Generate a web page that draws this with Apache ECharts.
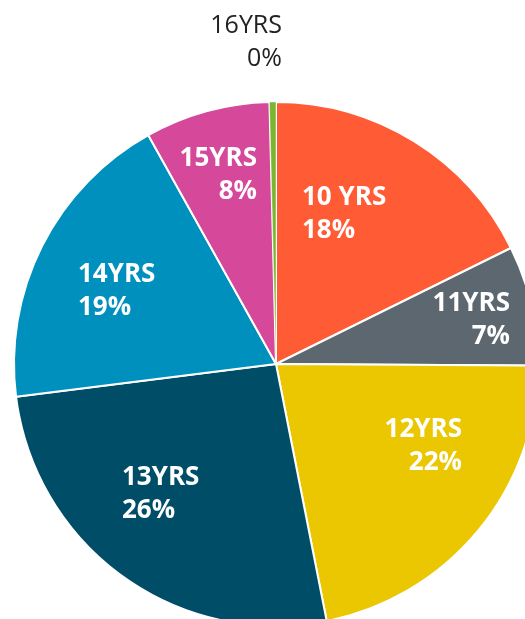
<!DOCTYPE html>
<html>
<head>
<meta charset="utf-8">
<script src="https://cdn.jsdelivr.net/npm/echarts@6/dist/echarts.min.js"></script>
<style>
  html, body { margin: 0; padding: 0; background: #fff; }
  #chart { width: 525px; height: 619px; }
</style>
</head>
<body>
<div id="chart"></div>
<script>
const categories = ['10 YRS', '11YRS', '12YRS', '13YRS', '14YRS', '15YRS', '16YRS'];
const shares = [17.7, 7.4, 21.8, 26.1, 18.9, 7.7, 0.4];
const pctLabels = ['18%', '7%', '22%', '26%', '19%', '8%', '0%'];
const colors = ['#FF5B35', '#5C6770', '#EAC700', '#004D68', '#0090BD', '#D6489A', '#7AB530'];

// label anchor: x, y, align
const labelAnchors = [
    [302, 214, 'left'],
    [510, 320, 'right'],
    [462, 446, 'right'],
    [122, 494, 'left'],
    [78, 291, 'left'],
    [257, 175, 'right'],
    [282, 42, 'right']
];

const chartDom = document.getElementById('chart');
const myChart = echarts.init(chartDom);

const option = {
    animation: false,
    series: [
        {
            type: 'pie',
            center: [276, 364],
            radius: 262,
            startAngle: 90,
            clockwise: true,
            avoidLabelOverlap: false,
            itemStyle: {
                borderColor: '#fff',
                borderWidth: 2
            },
            label: {
                show: true,
                position: 'inside',
                color: '#fff',
                fontFamily: 'Open Sans',
                fontWeight: 'bold',
                fontSize: 26,
                lineHeight: 33,
                formatter: p => p.name + '\n' + pctLabels[p.dataIndex]
            },
            labelLine: {show: false},
            labelLayout: function (params) {
                const a = labelAnchors[params.dataIndex];
                return {x: a[0], y: a[1], align: a[2], verticalAlign: 'middle'};
            },
            data: categories.map((c, i) => {
                const d = {name: c, value: shares[i], itemStyle: {color: colors[i]}};
                if (i === 6) {
                    d.label = {color: '#222', fontWeight: 'normal', fontSize: 25};
                    d.itemStyle.borderWidth = 0.5;
                }
                return d;
            })
        }
    ]
};

myChart.setOption(option);
</script>
</body>
</html>
